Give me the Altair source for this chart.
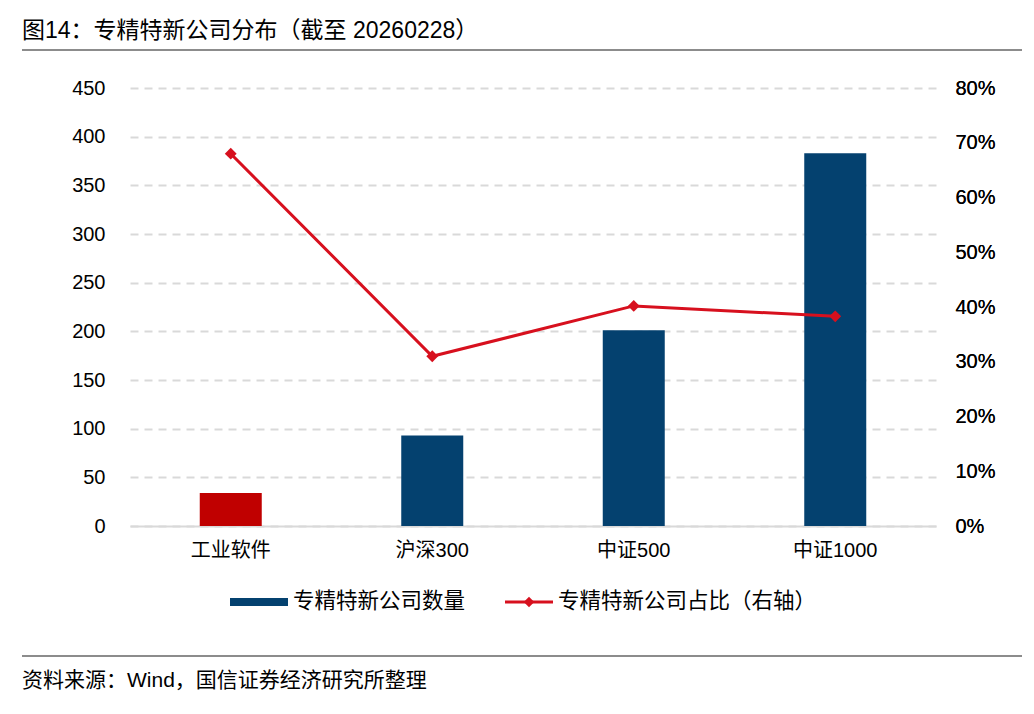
import altair as alt
import pandas as pd

categories = ["工业软件", "沪深300", "中证500", "中证1000"]
counts = [34, 93, 201, 383]
ratios = [0.68, 0.31, 0.402, 0.383]
bar_colors = ["#c00000", "#04416f", "#04416f", "#04416f"]
left_ticks = [0, 50, 100, 150, 200, 250, 300, 350, 400, 450]
right_ticks = [0, 0.1, 0.2, 0.3, 0.4, 0.5, 0.6, 0.7, 0.8]

title_text = "图14：专精特新公司分布（截至 20260228）"
source_text = "资料来源：Wind，国信证券经济研究所整理"
legend_bar = "专精特新公司数量"
legend_line = "专精特新公司占比（右轴）"

FONT = "Liberation Sans, Arial, Noto Sans CJK SC"
NAVY = "#04416f"
RED_LINE = "#d7101e"
FS = 20

df = pd.DataFrame({"cat": categories, "count": counts, "ratio": ratios})

W, H = 806, 438

x = alt.X("cat:N", sort=categories, title=None,
          scale=alt.Scale(paddingInner=0, paddingOuter=0),
          axis=alt.Axis(labelAngle=0, labelFontSize=FS, labelColor="#000", labelFont=FONT,
                        ticks=False, grid=False, domainColor="#d9d9d9", domainWidth=2, labelPadding=14))

bars = alt.Chart(df).mark_bar(size=62).encode(
    x=x,
    y=alt.Y("count:Q", title=None,
            scale=alt.Scale(domain=[0, 450], nice=False),
            axis=alt.Axis(values=left_ticks, labelFontSize=FS, labelColor="#000", labelFont=FONT,
                          domain=False, ticks=False, labelPadding=25,
                          grid=True, gridColor="#d9d9d9", gridDash=[8, 6], gridWidth=2)),
    color=alt.Color("cat:N", scale=alt.Scale(domain=categories, range=bar_colors), legend=None),
)

line_y = alt.Y("ratio:Q", title=None,
               scale=alt.Scale(domain=[0, 0.8], nice=False),
               axis=alt.Axis(orient="right", values=right_ticks, format=".0%", labelFontSize=FS,
                             labelColor="#000", labelFont=FONT, domain=False, ticks=False,
                             labelPadding=19, grid=False))

line = alt.Chart(df).mark_line(color=RED_LINE, strokeWidth=3).encode(x=x, y=line_y)
pts = alt.Chart(df).mark_point(shape="diamond", filled=True, size=140, color=RED_LINE, opacity=1).encode(x=x, y=line_y)

one = pd.DataFrame({"k": [0]})

def txt(s, px, py, size, align="left"):
    return alt.Chart(one).mark_text(text=s, font=FONT, fontSize=size, color="#000",
                                    align=align, baseline="middle").encode(
        x=alt.value(px), y=alt.value(py))

def rule(x1, x2, y1, color, w):
    return alt.Chart(one).mark_rule(color=color, strokeWidth=w).encode(
        x=alt.value(x1), x2=alt.value(x2), y=alt.value(y1))

deco = [
    txt(title_text, -108, -57, 23),
    rule(-108, 892, -38, "#666666", 1.5),
    rule(-108, 892, 568, "#666666", 1.5),
    txt(source_text, -108, 593, 21),
    alt.Chart(one).mark_rect(color=NAVY).encode(
        x=alt.value(100), x2=alt.value(158), y=alt.value(510), y2=alt.value(518)),
    txt(legend_bar, 163, 514, 21.5),
    rule(375, 423, 514, RED_LINE, 3),
    alt.Chart(one).mark_point(shape="diamond", filled=True, size=110, color=RED_LINE, opacity=1).encode(
        x=alt.value(399), y=alt.value(514)),
    txt(legend_line, 428, 514, 21.5),
]

chart = alt.layer(bars, line, pts, *deco).resolve_scale(y="independent").properties(
    width=W, height=H,
    autosize=alt.AutoSizeParams(type="none"),
    padding={"left": 122, "top": 80, "right": 90, "bottom": 170},
    background="white",
).configure_view(stroke=None)

chart.save("out.html", embed_options={"renderer": "svg", "actions": False})
